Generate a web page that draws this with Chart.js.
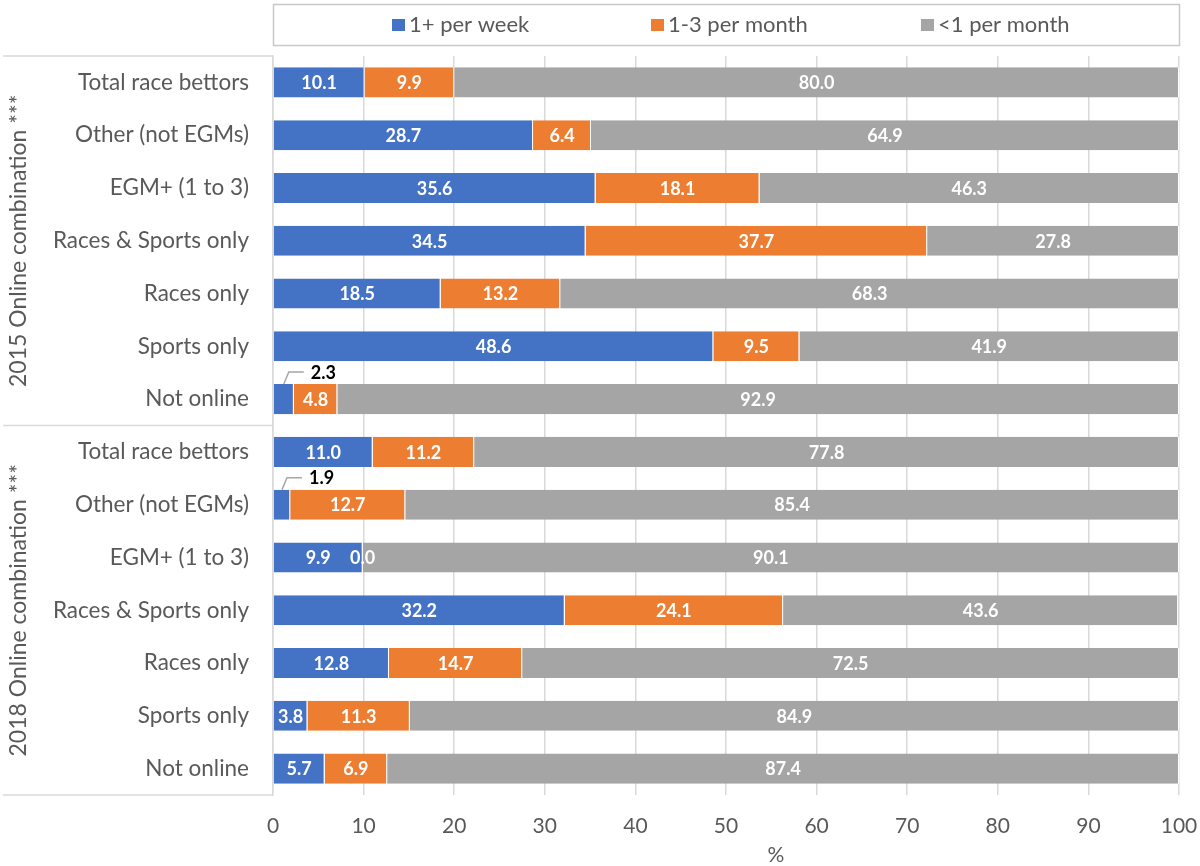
<!DOCTYPE html>
<html>
<head>
<meta charset="utf-8">
<script src="https://cdn.jsdelivr.net/npm/chart.js@4"></script>
<style>
  html, body { margin: 0; background: #fff; }
  #wrap { width: 1200px; height: 866px; }
</style>
</head>
<body>
<div id="wrap"><canvas id="freqChart"></canvas></div>
<script>
// --- data ---
const groups = ["2015 Online combination ***", "2018 Online combination ***"];
const categories = [
  "Total race bettors", "Other (not EGMs)", "EGM+ (1 to 3)", "Races & Sports only",
  "Races only", "Sports only", "Not online",
  "Total race bettors", "Other (not EGMs)", "EGM+ (1 to 3)", "Races & Sports only",
  "Races only", "Sports only", "Not online"
];
const seriesNames = ["1+ per week", "1-3 per month", "<1 per month"];
const weekly2015  = [10.1, 28.7, 35.6, 34.5, 18.5, 48.6, 2.3];
const monthly2015 = [9.9, 6.4, 18.1, 37.7, 13.2, 9.5, 4.8];
const rare2015    = [80.0, 64.9, 46.3, 27.8, 68.3, 41.9, 92.9];
const weekly2018  = [11.0, 1.9, 9.9, 32.2, 12.8, 3.8, 5.7];
const monthly2018 = [11.2, 12.7, 0.0, 24.1, 14.7, 11.3, 6.9];
const rare2018    = [77.8, 85.4, 90.1, 43.6, 72.5, 84.9, 87.4];
const xTicks = [0, 10, 20, 30, 40, 50, 60, 70, 80, 90, 100];
const xTitle = "%";

const colors = ["#4472C4", "#ED7D31", "#A5A5A5"];
const textGrey = "#595959";
const lineGrey = "#D9D9D9";

Chart.defaults.font.family = "Lato";
Chart.defaults.color = textGrey;

// values printed on each segment; tiny ones get a callout above the bar
const valueLabels = {
  id: "valueLabels",
  afterDatasetsDraw(chart) {
    const ctx = chart.ctx;
    ctx.save();
    ctx.font = "bold 18px Lato";
    ctx.textBaseline = "middle";
    chart.data.datasets.forEach((ds, i) => {
      const meta = chart.getDatasetMeta(i);
      meta.data.forEach((bar, j) => {
        const v = ds.data[j];
        const cx = (bar.x + bar.base) / 2;
        if (v > 0 && v < 3) {
          const top = bar.y - bar.height / 2;
          ctx.strokeStyle = "#A6A6A6";
          ctx.lineWidth = 1.5;
          ctx.beginPath();
          ctx.moveTo(cx, top);
          ctx.lineTo(cx + 5, top - 12);
          ctx.lineTo(cx + 20, top - 12);
          ctx.stroke();
          ctx.fillStyle = "#000";
          ctx.textAlign = "left";
          ctx.fillText(v.toFixed(1), cx + 27, top - 11);
        } else {
          ctx.fillStyle = "#fff";
          ctx.textAlign = "center";
          ctx.fillText(v.toFixed(1), cx, bar.y + 1);
        }
      });
    });
    ctx.restore();
  }
};

// legend box, group brackets, rotated group titles and the axis title
const decorations = {
  id: "decorations",
  afterDraw(chart) {
    const ctx = chart.ctx;
    const area = chart.chartArea;
    const y = chart.scales.y;
    ctx.save();

    // legend
    ctx.strokeStyle = "#C8C8C8";
    ctx.lineWidth = 1.5;
    ctx.strokeRect(area.left + 0.5, 4.5, area.right - area.left, 41);
    const keyX = [392, 651, 921];
    ctx.font = "22px Lato";
    ctx.textBaseline = "middle";
    ctx.textAlign = "left";
    seriesNames.forEach((name, i) => {
      ctx.fillStyle = colors[i];
      ctx.fillRect(keyX[i], 19, 13, 12);
      ctx.fillStyle = textGrey;
      ctx.fillText(name, keyX[i] + 17, 25);
    });

    // group separators
    const mid = (y.getPixelForValue(6) + y.getPixelForValue(7)) / 2;
    ctx.strokeStyle = lineGrey;
    ctx.lineWidth = 1.5;
    [area.top, mid, area.bottom].forEach(py => {
      ctx.beginPath();
      ctx.moveTo(3, py);
      ctx.lineTo(area.left, py);
      ctx.stroke();
    });

    // group titles
    ctx.font = "23px Lato";
    ctx.fillStyle = textGrey;
    ctx.textAlign = "center";
    [[area.top, mid], [mid, area.bottom]].forEach(([a, b], i) => {
      ctx.save();
      ctx.translate(19, (a + b) / 2);
      ctx.rotate(-Math.PI / 2);
      ctx.fillText(groups[i], 0, 0);
      ctx.restore();
    });

    // x axis title, centred under the whole figure rather than the plot
    ctx.font = "21px Lato";
    ctx.fillText(xTitle, 776, 855);
    ctx.restore();
  }
};

const weekly = weekly2015.concat(weekly2018);
const monthly = monthly2015.concat(monthly2018);
const rare = rare2015.concat(rare2018);

new Chart(document.getElementById("freqChart"), {
  type: "bar",
  data: {
    labels: categories,
    datasets: [weekly, monthly, rare].map((d, i) => ({
      label: seriesNames[i],
      data: d,
      backgroundColor: colors[i],
      borderColor: "#fff",
      borderWidth: { left: 0, right: 1, top: 0, bottom: 0 },
      barPercentage: 0.57,
      categoryPercentage: 1
    }))
  },
  options: {
    indexAxis: "y",
    responsive: true,
    maintainAspectRatio: false,
    animation: false,
    layout: { padding: { top: 56, right: 21, left: 0, bottom: 0 } },
    plugins: {
      legend: { display: false },
      tooltip: { enabled: false }
    },
    scales: {
      x: {
        stacked: true,
        min: 0,
        max: 100,
        afterBuildTicks: s => { s.ticks = xTicks.map(v => ({ value: v })); },
        afterFit: s => { s.height = 71; s.paddingRight = 0; s.paddingLeft = 0; },
        ticks: { font: { size: 21 }, color: textGrey, padding: 19 },
        grid: { color: lineGrey, lineWidth: 1.5, drawTicks: false },
        border: { display: false }
      },
      y: {
        stacked: true,
        afterFit: s => { s.width = 273; },
        ticks: { font: { size: 22.5 }, color: textGrey, padding: 24, autoSkip: false },
        grid: { display: false, drawTicks: false },
        border: { display: true, color: lineGrey, width: 1.5 }
      }
    }
  },
  plugins: [valueLabels, decorations]
});
</script>
</body>
</html>
